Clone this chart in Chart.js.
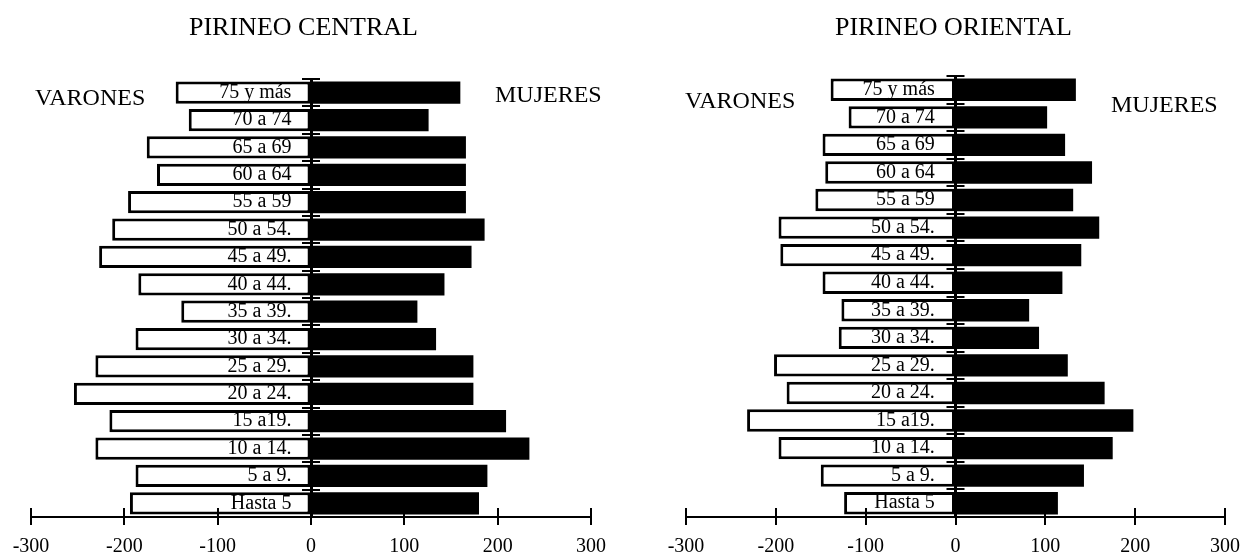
<!DOCTYPE html>
<html>
<head>
<meta charset="utf-8">
<script src="https://cdn.jsdelivr.net/npm/chart.js@4.4.1/dist/chart.umd.min.js"></script>
<style>
  html, body { margin: 0; padding: 0; background: #fff; }
  body { width: 1245px; height: 557px; position: relative; overflow: hidden; font-family: "Liberation Serif", "Times New Roman", serif; color: #000; }
  .wrap { position: absolute; top: 0; height: 559px; }
  .txt { position: absolute; white-space: nowrap; line-height: 1; }
  .title { font-size: 26px; line-height: 26px; }
  .side { font-size: 24px; line-height: 24px; }
</style>
</head>
<body>
<div class="wrap" style="left:0;width:640px;"><canvas id="c1"></canvas></div>
<div class="wrap" style="left:640px;width:605px;"><canvas id="c2"></canvas></div>

<div class="txt title" style="left:189px;top:14px;">PIRINEO CENTRAL</div>
<div class="txt title" style="left:835px;top:14px;">PIRINEO ORIENTAL</div>
<div class="txt side" style="left:35px;top:85px;">VARONES</div>
<div class="txt side" style="left:495px;top:82px;">MUJERES</div>
<div class="txt side" style="left:685px;top:88px;">VARONES</div>
<div class="txt side" style="left:1111px;top:92px;">MUJERES</div>

<script>
// ---- Data ----
const ageGroups = ["75 y más","70 a 74","65 a 69","60 a 64","55 a 59","50 a 54.","45 a 49.","40 a 44.","35 a 39.","30 a 34.","25 a 29.","20 a 24.","15 a19.","10 a 14.","5 a 9.","Hasta 5"];
const varonesCentral = [-145,-131,-176,-165,-196,-213,-227,-185,-139,-188,-231,-254,-216,-231,-188,-194];
const mujeresCentral = [160,126,166,166,166,186,172,143,114,134,174,174,209,234,189,180];
const varonesOriental = [-139,-119,-148,-145,-156,-197,-195,-148,-127,-130,-202,-188,-232,-197,-150,-124];
const mujeresOriental = [134,102,122,152,131,160,140,119,82,93,125,166,198,175,143,114];
const xTicks = [-300,-200,-100,0,100,200,300];

const FONT = '"Liberation Serif", "Times New Roman", serif';

// crossing tick marks drawn from the library's scales
const crossTicks = {
  id: 'crossTicks',
  afterDraw(chart) {
    const ctx = chart.ctx;
    const xs = chart.scales.x, ys = chart.scales.y;
    const area = chart.chartArea;
    ctx.save();
    ctx.strokeStyle = '#000';
    ctx.lineWidth = 2;
    ctx.beginPath();
    xTicks.forEach(v => {
      const px = Math.round(xs.getPixelForValue(v));
      ctx.moveTo(px, area.bottom - 9);
      ctx.lineTo(px, area.bottom + 8);
    });
    const x0 = xs.getPixelForValue(0);
    const n = ageGroups.length;
    for (let i = 0; i <= n; i++) {
      const py = Math.round(ys.getPixelForValue(i - 0.5));
      ctx.moveTo(x0 - 9, py);
      ctx.lineTo(x0 + 9, py);
    }
    ctx.stroke();
    ctx.restore();
  }
};

function makeChart(id, varones, mujeres, padding, labelAt) {
  return new Chart(document.getElementById(id), {
    type: 'bar',
    data: {
      labels: ageGroups,
      datasets: [
        { label: 'VARONES', data: varones, backgroundColor: '#fff', borderColor: '#000', borderWidth: 3, borderSkipped: false },
        { label: 'MUJERES', data: mujeres, backgroundColor: '#000', borderColor: '#000', borderWidth: 0 }
      ]
    },
    options: {
      indexAxis: 'y',
      responsive: true,
      maintainAspectRatio: false,
      animation: false,
      events: [],
      layout: { padding },
      datasets: { bar: { barPercentage: 0.81, categoryPercentage: 1 } },
      plugins: { legend: { display: false }, title: { display: false }, tooltip: { enabled: false } },
      scales: {
        x: {
          type: 'linear', stacked: true, min: -300, max: 300,
          afterBuildTicks: (s) => { s.ticks = xTicks.map(v => ({ value: v })); },
          grid: { display: true, drawOnChartArea: false, drawTicks: true, tickLength: 18, tickColor: 'rgba(0,0,0,0)' },
          border: { display: true, color: '#000', width: 2 },
          ticks: { color: '#000', font: { family: FONT, size: 20 }, padding: 0, maxRotation: 0 }
        },
        y: {
          type: 'category', stacked: true, position: { x: 0 },
          grid: { display: false, drawTicks: false },
          border: { display: true, color: '#000', width: 3, z: 2 },
          ticks: { display: false }
        },
        yl: {
          type: 'category', labels: ageGroups, offset: true, position: { x: labelAt },
          grid: { display: false, drawTicks: false },
          border: { display: false },
          ticks: { color: '#000', font: { family: FONT, size: 20 }, autoSkip: false, z: 2 }
        }
      }
    },
    plugins: [crossTicks]
  });
}

makeChart('c1', varonesCentral, mujeresCentral, { left: 31, right: 49, top: 79, bottom: 0 }, -21);
makeChart('c2', varonesOriental, mujeresOriental, { left: 46, right: 20, top: 76, bottom: 0 }, -23);
</script>
</body>
</html>
